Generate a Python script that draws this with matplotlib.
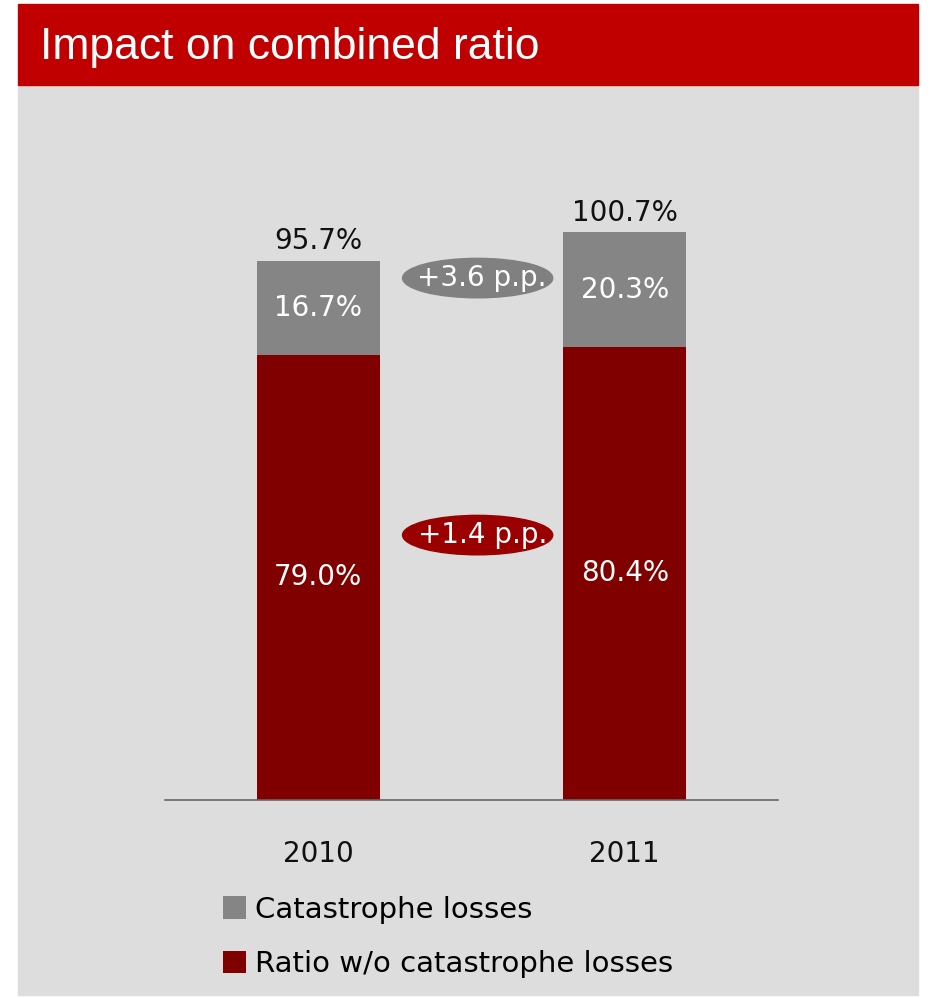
import matplotlib.pyplot as plt
from matplotlib.patches import Rectangle, Ellipse

# Datos del gráfico
years = ["2010", "2011"]
ratio_sin_cat = [79.0, 80.4]
cat_losses = [16.7, 20.3]
totales = [95.7, 100.7]
deltas = ["+3.6 p.p.", "+1.4 p.p."]

rojo_titulo = "#C00000"
rojo_barra = "#800000"
gris_barra = "#858585"
fondo = "#DDDDDD"

fig = plt.figure(figsize=(9.33, 9.98), dpi=100)
fig.patch.set_facecolor("white")

# fondo gris y barra de título
fig.patches.append(Rectangle((18 / 933, 3 / 998), 900 / 933, 912 / 998,
                             transform=fig.transFigure, color=fondo, zorder=-2))
fig.patches.append(Rectangle((18 / 933, 913 / 998), 900 / 933, 81 / 998,
                             transform=fig.transFigure, color=rojo_titulo, zorder=-2))
fig.text(40 / 933, 951 / 998, "Impact on combined ratio", color="white",
         fontsize=32, family=["Liberation Sans", "DejaVu Sans"],
         va="center", ha="left")

ax = fig.add_axes([165 / 933, 198 / 998, 613 / 933, 620 / 998])
ax.set_zorder(2)
ax.set_facecolor("none")
x = range(len(years))
ax.bar(x, ratio_sin_cat, width=0.4, color=rojo_barra, label="Ratio w/o catastrophe losses", zorder=2)
ax.bar(x, cat_losses, width=0.4, bottom=ratio_sin_cat, color=gris_barra,
       label="Catastrophe losses", zorder=2)
ax.set_xlim(-0.5, 1.5)
ax.set_ylim(0, 110)

fs = 20
for i in x:
    ax.text(i, ratio_sin_cat[i] / 2, f"{ratio_sin_cat[i]:.1f}%", color="white",
            fontsize=fs, ha="center", va="center", zorder=3)
    ax.text(i, ratio_sin_cat[i] + cat_losses[i] / 2, f"{cat_losses[i]:.1f}%",
            color="white", fontsize=fs, ha="center", va="center", zorder=3)
    ax.text(i, totales[i] + 1.0, f"{totales[i]:.1f}%", color="#111111",
            fontsize=fs, ha="center", va="bottom", zorder=3)

# elipses con las diferencias
elipses = [(92.6, "#808080"), (47.0, "#9B0000")]
for (yc, col), txt in zip(elipses, deltas):
    ax.add_patch(Ellipse((0.52, yc), 0.49, 7.0, color=col, zorder=3))
    ax.text(0.535, yc, txt, color="white", fontsize=fs, ha="center",
            va="center", zorder=4)

for s in ["top", "right", "left"]:
    ax.spines[s].set_visible(False)
ax.spines["bottom"].set_color("#666666")
ax.spines["bottom"].set_linewidth(1.2)
ax.set_yticks([])
ax.set_xticks(list(x))
ax.set_xticklabels(years, fontsize=fs, color="#111111")
ax.tick_params(axis="x", length=0, pad=29)

handles, labels = ax.get_legend_handles_labels()
leg = fig.legend(handles[::-1], labels[::-1], loc="upper left",
                 bbox_to_anchor=(208 / 933, 117 / 998), frameon=False,
                 fontsize=21, handlelength=0.8, handleheight=0.8,
                 handletextpad=0.3, labelspacing=0.9, borderpad=0)

fig.savefig("out.png", dpi=100, facecolor=fig.get_facecolor())
